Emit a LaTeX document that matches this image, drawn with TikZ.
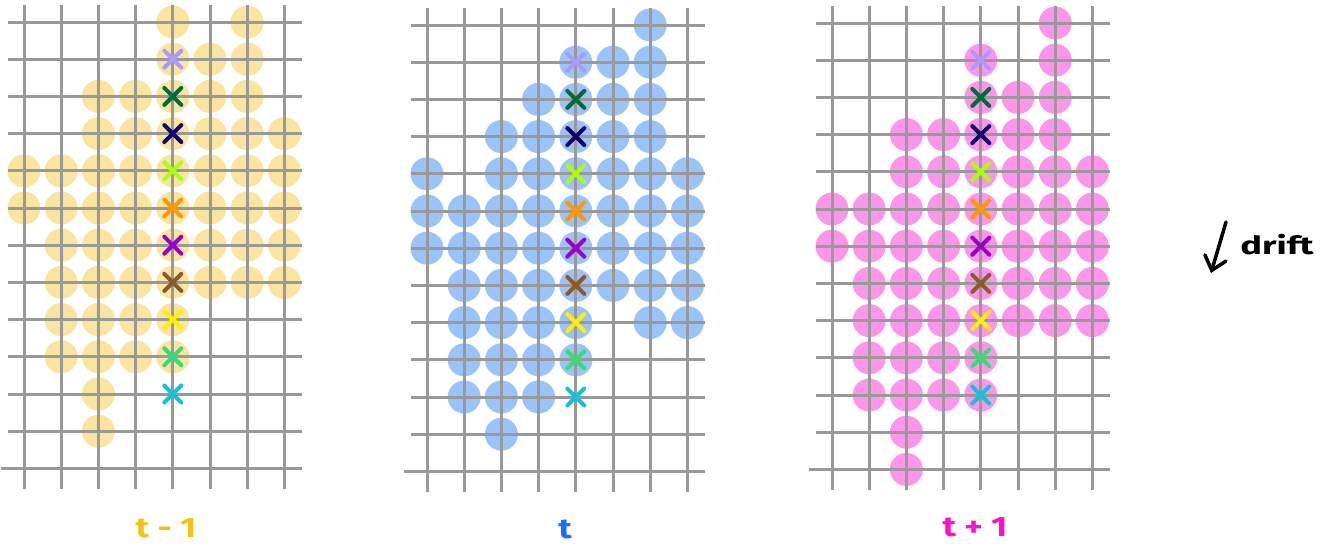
\documentclass[tikz,border=0pt]{standalone}
\usepackage{fontspec}
\setmainfont{Fira Sans}
\usetikzlibrary{arrows.meta}
\definecolor{gridgray}{HTML}{999999}
\definecolor{blobyellow}{HTML}{F9E4A0}
\definecolor{blobblue}{HTML}{9AC3F9}
\definecolor{blobpink}{HTML}{FD96EA}
\definecolor{xlav}{HTML}{AA99FF}
\definecolor{xdkgreen}{HTML}{006B3A}
\definecolor{xnavy}{HTML}{14006B}
\definecolor{xlime}{HTML}{AAFF11}
\definecolor{xorange}{HTML}{FF9900}
\definecolor{xpurple}{HTML}{9900CC}
\definecolor{xbrown}{HTML}{8B5A2B}
\definecolor{xyellow}{HTML}{FFF000}
\definecolor{xgreen}{HTML}{33DD77}
\definecolor{xcyan}{HTML}{15C3D9}
\definecolor{labyellow}{HTML}{F2C314}
\definecolor{labblue}{HTML}{1A6EFF}
\definecolor{labpink}{HTML}{FF11CC}
\tikzset{
  gridline/.style={draw=gridgray, line width=3pt},
  crossline/.style={line width=4pt, line cap=round},
  steplabel/.style={font=\fontsize{28}{28}\selectfont\bfseries, inner sep=0pt, xscale=1.25},
}
\newcommand\drawpanel[4]{%
  \foreach \rr/\cols in {#4} {
    \foreach \cc in \cols {
      \fill[#3] (#1+\cc*37.2, #2+\rr*37.2) circle[radius=16.5];
    }
  }
  \foreach \cc in {0,...,7}
    \draw[gridline] (#1+\cc*37.2, #2-17) -- (#1+\cc*37.2, #2+467.4);
  \foreach \rr in {0,...,11}
    \draw[gridline] (#1-16, #2+\rr*37.2) -- (#1+278, #2+\rr*37.2);
  \draw[gridline] (#1-23, #2+446.4) -- (#1+278, #2+446.4);
  \foreach \rr/\col in {1/xlav,2/xdkgreen,3/xnavy,4/xlime,5/xorange,6/xpurple,7/xbrown,8/xyellow,9/xgreen,10/xcyan}
    \draw[crossline, \col] (#1+148.8-8.5, #2+\rr*37.2-8.5) -- ++(17,17)
                           (#1+148.8-8.5, #2+\rr*37.2+8.5) -- ++(17,-17);
}
\begin{document}
\begin{tikzpicture}[x=1pt,y=-1pt]
\useasboundingbox (0,0) rectangle (1322,546);
\fill[white] (0,0) rectangle (1322,546);

\drawpanel{24}{22}{blobyellow}{0/{4,6},1/{4,5,6},2/{2,...,6},3/{2,...,7},4/{0,...,7},5/{0,...,7},6/{1,...,7},7/{1,...,7},8/{1,...,4},9/{1,...,4},10/{2},11/{2}}
\drawpanel{427}{25}{blobblue}{0/{6},1/{4,5,6},2/{3,...,6},3/{2,...,6},4/{0,2,3,4,5,6,7},5/{0,...,7},6/{0,...,7},7/{1,...,7},8/{1,2,3,4,6,7},9/{1,...,4},10/{1,2,3},11/{2}}
\drawpanel{832}{23}{blobpink}{0/{6},1/{4,6},2/{4,5,6},3/{2,...,6},4/{2,...,7},5/{0,...,7},6/{0,...,7},7/{1,...,7},8/{1,...,7},9/{1,...,4},10/{1,...,4},11/{2},12/{2}}

\node[steplabel, text=labyellow] (lprev) at (166,528) {t - 1};
\node[steplabel, text=labblue] (lnow) at (565,529) {t};
\node[steplabel, text=labpink] (lnext) at (975,527) {t + 1};

\coordinate (dstart) at (1226,222);
\coordinate (dend) at (1211,273);
\draw[line width=3.5pt, line cap=round, -{Straight Barb[length=13pt, width=22pt, line cap=round]}] (dstart) -- (dend);
\node[font=\fontsize{25}{25}\selectfont\bfseries, inner sep=0pt, xscale=1.45] (drift) at (1277,245) {drift};
\end{tikzpicture}
\end{document}
